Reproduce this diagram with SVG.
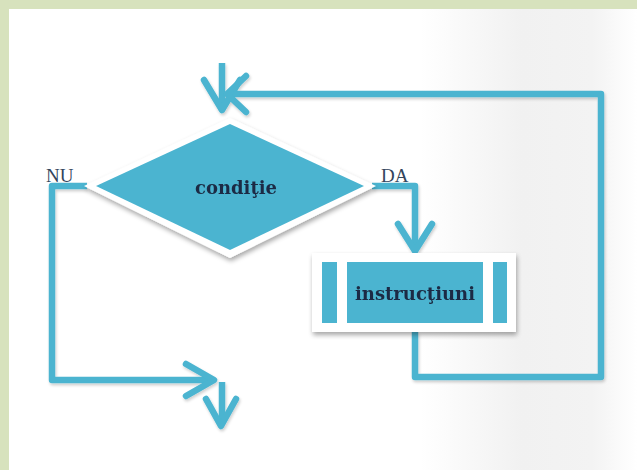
<svg xmlns="http://www.w3.org/2000/svg" width="637" height="470" viewBox="0 0 637 470">
  <defs>
    <linearGradient id="bg" x1="0" y1="0" x2="637" y2="0" gradientUnits="userSpaceOnUse">
      <stop offset="0.66" stop-color="#ffffff"/>
      <stop offset="0.82" stop-color="#f1f1f1"/>
      <stop offset="0.93" stop-color="#f3f3f3"/>
      <stop offset="1" stop-color="#ffffff"/>
    </linearGradient>
    <filter id="shadow" x="-20%" y="-20%" width="140%" height="150%">
      <feGaussianBlur in="SourceAlpha" stdDeviation="2.5"/>
      <feOffset dx="1" dy="3" result="b"/>
      <feComponentTransfer><feFuncA type="linear" slope="0.35"/></feComponentTransfer>
      <feMerge><feMergeNode/><feMergeNode in="SourceGraphic"/></feMerge>
    </filter>
    <filter id="soft" x="-10%" y="-10%" width="120%" height="130%">
      <feGaussianBlur in="SourceAlpha" stdDeviation="1.5"/>
      <feOffset dx="1" dy="2"/>
      <feComponentTransfer><feFuncA type="linear" slope="0.2"/></feComponentTransfer>
      <feMerge><feMergeNode/><feMergeNode in="SourceGraphic"/></feMerge>
    </filter>
  </defs>
  <style>
    .wire { fill: none; stroke: #4bb4d0; stroke-width: 6.5; stroke-linejoin: round; stroke-linecap: butt; }
    .head { fill: none; stroke: #4bb4d0; stroke-width: 6.5; stroke-linejoin: round; stroke-linecap: round; }
    .blue { fill: #4bb4d0; }
    .label { font-family: "DejaVu Serif", "Liberation Serif", serif; fill: #1c2c44; font-weight: bold; }
    .tag { font-family: "Liberation Serif", "DejaVu Serif", serif; fill: #33455c; font-size: 19px; }
  </style>

  <!-- page background with green frame on top and left -->
  <rect x="0" y="0" width="637" height="470" fill="url(#bg)"/>
  <rect x="0" y="0" width="637" height="9" fill="#d7e2bd"/>
  <rect x="0" y="0" width="9" height="470" fill="#d7e2bd"/>

  <!-- connectors -->
  <g id="connectors" filter="url(#soft)">
    <!-- incoming arrow on top -->
    <line class="wire" x1="222" y1="63" x2="222" y2="110"/>
    <polyline class="head" points="204,80 222,110 240,80"/>
    <!-- loop back from instructions -->
    <polyline class="wire" points="415,332 415,377 601,377 601,94 230,94"/>
    <polyline class="head" points="246,76 227,94 246,112"/>
    <!-- DA branch -->
    <polyline class="wire" points="372,186 415,186 415,250"/>
    <polyline class="head" points="398,224 415,251 432,224"/>
    <!-- NU branch -->
    <polyline class="wire" points="87,186 52,186 52,380 212,380"/>
    <polyline class="head" points="186,364 214,380 186,396"/>
    <!-- exit arrow -->
    <line class="wire" x1="222" y1="382" x2="222" y2="424"/>
    <polyline class="head" points="206,399 221,426 236,399"/>
  </g>

  <!-- decision -->
  <g id="conditie" filter="url(#shadow)">
    <polygon points="230,118 376,186 230,258 84,186" fill="#ffffff"/>
    <polygon class="blue" points="230,124 364,186 230,250 96,186"/>
    <text class="label" x="236" y="194" font-size="18" text-anchor="middle">condiţie</text>
  </g>
  <text class="tag" x="46" y="182">NU</text>
  <text class="tag" x="381" y="182">DA</text>

  <!-- predefined process -->
  <g id="instructiuni" filter="url(#shadow)">
    <rect x="312" y="253" width="204" height="79" fill="#ffffff"/>
    <rect class="blue" x="322" y="262" width="15" height="61"/>
    <rect class="blue" x="347" y="262" width="136" height="61"/>
    <rect class="blue" x="493" y="262" width="14" height="61"/>
    <text class="label" x="415" y="300" font-size="18" text-anchor="middle">instrucţiuni</text>
  </g>
</svg>
